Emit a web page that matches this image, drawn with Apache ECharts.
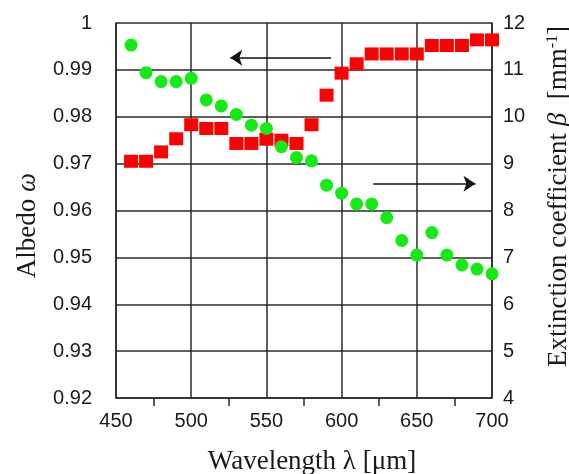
<!DOCTYPE html>
<html><head><meta charset="utf-8">
<script src="https://cdn.jsdelivr.net/npm/echarts@6/dist/echarts.min.js"></script>
<style>html,body{margin:0;padding:0;background:#fff}#c{width:569px;height:474px}</style>
</head><body><div id="c"></div>
<script>
const wavelengths = [460,470,480,490,500,510,520,530,540,550,560,570,580,590,600,610,620,630,640,650,660,670,680,690,700];
const albedo = [0.9705,0.9705,0.9725,0.9753,0.9783,0.9775,0.9775,0.9743,0.9743,0.9752,0.9750,0.9743,0.9783,0.9846,0.9893,0.9913,0.9934,0.9934,0.9934,0.9934,0.9952,0.9952,0.9952,0.9964,0.9964];
const extinction = [11.53,10.94,10.75,10.75,10.82,10.36,10.23,10.05,9.82,9.75,9.36,9.13,9.06,8.54,8.37,8.14,8.14,7.85,7.36,7.05,7.53,7.05,6.84,6.75,6.65];
const xTicks = [450,500,550,600,650,700];
const albedoArrow = [[593,0.9926],[526,0.9926]];
const betaArrow = [[621,8.57],[689,8.57]];

const chart = echarts.init(document.getElementById('c'), null, {renderer:'canvas'});
const grid = '#2a2a2a';
const serif = 'Liberation Serif, Times New Roman, serif';
const tickFont = {fontFamily:'Liberation Sans, Arial, sans-serif', fontSize:20, color:'#1a1a1a'};
chart.setOption({
  animation:false,
  grid:{left:116,right:77,top:23,bottom:76,show:false,containLabel:false,outerBoundsMode:'none'},
  xAxis:{
    type:'value',min:450,max:700,interval:50,
    axisLine:{show:true,onZero:false,lineStyle:{color:grid,width:1.5}},
    axisTick:{show:false},
    minorTick:{show:true,splitNumber:2,length:8,lineStyle:{color:grid,width:1.5}},
    axisLabel:Object.assign({margin:13},tickFont),
    splitLine:{show:true,lineStyle:{color:grid,width:1.5}},
    name:'Wavelength λ [μm]',nameLocation:'middle',nameGap:50,
    nameTextStyle:{fontFamily:serif,fontSize:27,color:'#1a1a1a',padding:[0,0,0,16]}
  },
  yAxis:[{
    type:'value',min:0.92,max:1,interval:0.01,position:'left',
    axisLine:{show:true,onZero:false,lineStyle:{color:grid,width:1.5}},
    axisTick:{show:false},
    axisLabel:Object.assign({margin:24,formatter:v=>(+v.toFixed(2)).toString()},tickFont),
    splitLine:{show:true,lineStyle:{color:grid,width:1.5}},
    name:'{a|Albedo }{i|ω}',nameLocation:'middle',nameGap:75,
    nameTextStyle:{padding:[0,30,0,0],rich:{a:{fontFamily:serif,fontSize:27,color:'#1a1a1a'},i:{fontFamily:serif,fontStyle:'italic',fontSize:27,color:'#1a1a1a'}}}
  },{
    type:'value',min:4,max:12,interval:1,position:'right',
    axisLine:{show:true,onZero:false,lineStyle:{color:grid,width:1.5}},
    axisTick:{show:false},
    axisLabel:Object.assign({margin:11},tickFont),
    splitLine:{show:false},
    name:'{a|Extinction coefficient }{i|β}{a|  [mm}{s|-1}{a|]}',nameLocation:'middle',nameGap:53,
    nameTextStyle:{padding:[0,0,0,28],rich:{
      a:{fontFamily:serif,fontSize:27,color:'#1a1a1a'},
      i:{fontFamily:serif,fontStyle:'italic',fontSize:27,color:'#1a1a1a'},
      s:{fontFamily:serif,fontSize:16,color:'#1a1a1a',verticalAlign:'top',padding:[0,0,12,0]}
    }}
  }],
  series:[{
    type:'scatter',yAxisIndex:0,symbol:'rect',symbolSize:[14,13],
    itemStyle:{color:'#fa0202',opacity:1},
    data:wavelengths.map((w,i)=>[w,albedo[i]]),
    markLine:{silent:true,symbol:['none','arrow'],symbolSize:12,label:{show:false},
      lineStyle:{color:'#111',width:1.5,type:'solid',opacity:1},
      data:[[{coord:albedoArrow[0]},{coord:albedoArrow[1]}]]}
  },{
    type:'scatter',yAxisIndex:1,symbol:'circle',symbolSize:13,
    itemStyle:{color:'#14ea14',opacity:1},
    data:wavelengths.map((w,i)=>[w,extinction[i]]),
    markLine:{silent:true,symbol:['none','arrow'],symbolSize:12,label:{show:false},
      lineStyle:{color:'#111',width:1.5,type:'solid',opacity:1},
      data:[[{coord:betaArrow[0]},{coord:betaArrow[1]}]]}
  }]
});
</script></body></html>
